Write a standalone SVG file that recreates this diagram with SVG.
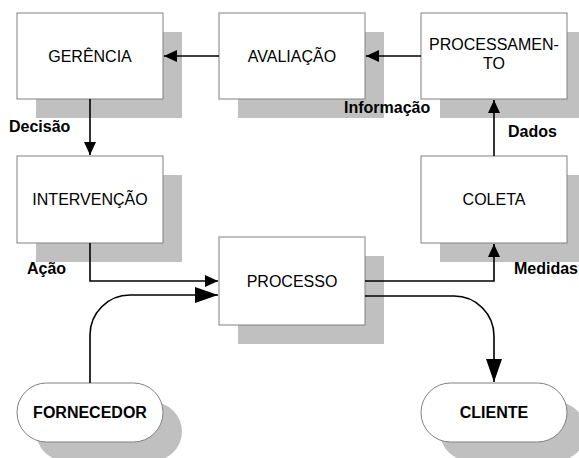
<svg xmlns="http://www.w3.org/2000/svg" width="579" height="458" viewBox="0 0 579 458">
  <defs>
    <style>
      .shadow { fill: #c0c0c0; stroke: none; }
      .box { fill: #ffffff; stroke: #808080; stroke-width: 1; }
      .name { font-family: "Liberation Sans", Arial, sans-serif; font-size: 16px; fill: #000; text-anchor: middle; }
      .term { font-family: "Liberation Sans", Arial, sans-serif; font-size: 16px; font-weight: bold; fill: #000; text-anchor: middle; }
      .flow { font-family: "Liberation Sans", Arial, sans-serif; font-size: 16px; font-weight: bold; fill: #000; }
      .wire { fill: none; stroke: #000; stroke-width: 1.6; }
    </style>
    <marker id="head" markerUnits="userSpaceOnUse" markerWidth="14" markerHeight="12" refX="13" refY="6" orient="auto">
      <path d="M0,0 L13,6 L0,12 Z" fill="#000"/>
    </marker>
    <marker id="headBig" markerUnits="userSpaceOnUse" markerWidth="24" markerHeight="16" refX="23" refY="8" orient="auto">
      <path d="M0,0 L23,8 L0,16 Z" fill="#000"/>
    </marker>
  </defs>

  <rect width="579" height="458" fill="#ffffff"/>

  <g id="gerencia">
    <rect class="shadow" x="36" y="32" width="146" height="86"/>
    <rect class="box" x="17" y="13" width="146" height="86"/>
    <text class="name" x="90" y="62">GERÊNCIA</text>
  </g>

  <g id="avaliacao">
    <rect class="shadow" x="238" y="32" width="146" height="86"/>
    <rect class="box" x="219" y="13" width="146" height="86"/>
    <text class="name" x="292" y="62">AVALIAÇÃO</text>
  </g>

  <g id="processamento">
    <rect class="shadow" x="440" y="32" width="146" height="86"/>
    <rect class="box" x="421" y="13" width="146" height="86"/>
    <text class="name" x="494" y="50">PROCESSAMEN-</text>
    <text class="name" x="494" y="69">TO</text>
  </g>

  <g id="intervencao">
    <rect class="shadow" x="36" y="175" width="146" height="87"/>
    <rect class="box" x="17" y="156" width="146" height="87"/>
    <text class="name" x="90" y="205">INTERVENÇÃO</text>
  </g>

  <g id="coleta">
    <rect class="shadow" x="440" y="175" width="146" height="87"/>
    <rect class="box" x="421" y="156" width="146" height="87"/>
    <text class="name" x="494" y="205">COLETA</text>
  </g>

  <g id="processo">
    <rect class="shadow" x="238" y="256" width="146" height="88"/>
    <rect class="box" x="219" y="237" width="146" height="88"/>
    <text class="name" x="292" y="287">PROCESSO</text>
  </g>

  <g id="fornecedor">
    <rect class="shadow" x="36" y="402" width="146" height="59" rx="29.5"/>
    <rect class="box" x="17" y="383" width="146" height="59" rx="29.5"/>
    <text class="term" x="90" y="418">FORNECEDOR</text>
  </g>

  <g id="cliente">
    <rect class="shadow" x="440" y="402" width="146" height="59" rx="29.5"/>
    <rect class="box" x="421" y="383" width="146" height="59" rx="29.5"/>
    <text class="term" x="494" y="418">CLIENTE</text>
  </g>

  <g id="connectors">
    <path class="wire" d="M421,56 L366,56" marker-end="url(#head)"/>
    <path class="wire" d="M219,56 L164,56" marker-end="url(#head)"/>
    <path class="wire" d="M90,99 L90,155" marker-end="url(#head)"/>
    <path class="wire" d="M494,156 L494,100" marker-end="url(#head)"/>
    <path class="wire" d="M90,243 V281 H218" marker-end="url(#head)"/>
    <path class="wire" d="M90,383 V335 A40,40 0 0 1 130,295 H218" marker-end="url(#headBig)"/>
    <path class="wire" d="M365,281 H494 V244" marker-end="url(#head)"/>
    <path class="wire" d="M365,296 H454 A40,40 0 0 1 494,336 V382" marker-end="url(#headBig)"/>

    <text class="flow" x="9" y="132">Decisão</text>
    <text class="flow" x="344" y="113">Informação</text>
    <text class="flow" x="508" y="137">Dados</text>
    <text class="flow" x="27" y="274">Ação</text>
    <text class="flow" x="514" y="274">Medidas</text>
  </g>
</svg>
